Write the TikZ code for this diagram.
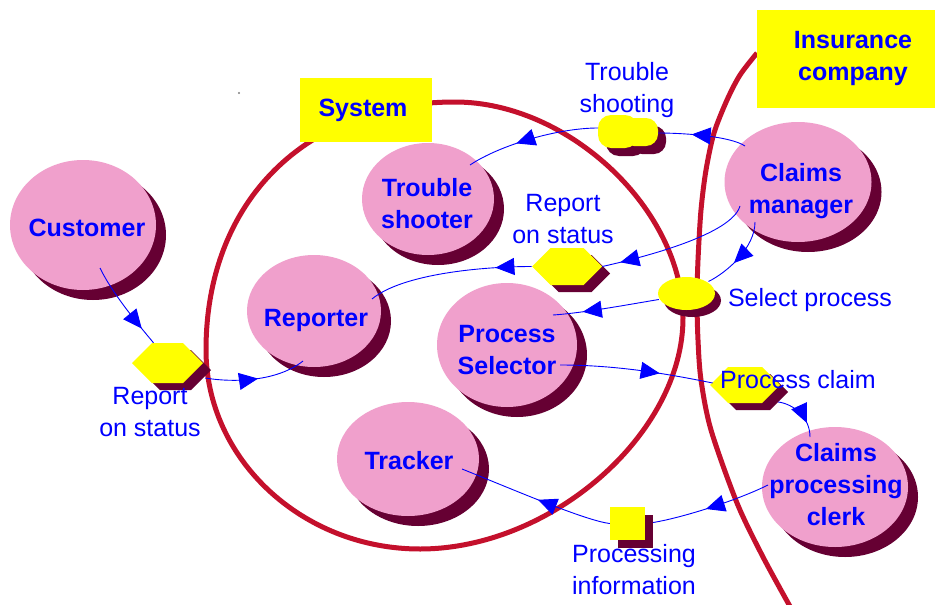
\documentclass[tikz,border=0pt]{standalone}
\usepackage{fontspec}
\setmainfont{Liberation Sans}
\usetikzlibrary{shapes.geometric,shapes.symbols,shadows,decorations.markings,arrows.meta,calc}

\definecolor{bubble}{RGB}{240,160,204}
\definecolor{bubbleshade}{RGB}{102,0,51}
\definecolor{tag}{RGB}{255,255,0}
\definecolor{flow}{RGB}{0,0,255}
\definecolor{bound}{RGB}{196,16,44}

\tikzset{
  actor/.style={ellipse, fill=bubble, inner sep=0pt,
    drop shadow={shadow xshift=10pt, shadow yshift=-10pt, fill=bubbleshade, opacity=1}},
  actortext/.style={text=flow, font=\fontsize{25}{32}\selectfont\bfseries, align=center, inner sep=0pt},
  msgtext/.style={text=flow, font=\fontsize{25}{32}\selectfont, align=center, inner sep=0pt},
  hexa/.style={signal, signal to=west and east, signal pointer angle=90, fill=tag, inner sep=0pt,
    drop shadow={shadow xshift=8pt, shadow yshift=-7pt, fill=bubbleshade, opacity=1}},
  oval/.style={ellipse, fill=tag, inner sep=0pt,
    drop shadow={shadow xshift=6pt, shadow yshift=-7pt, fill=bubbleshade, opacity=1}},
  sqbox/.style={rectangle, fill=tag, inner sep=0pt,
    drop shadow={shadow xshift=8pt, shadow yshift=-8pt, fill=bubbleshade, opacity=1}},
  titlebox/.style={rectangle, fill=tag, inner sep=0pt},
  boundary/.style={draw=bound, line width=5pt},
  flowline/.style={draw=flow, line width=0.9pt},
  tipat/.style={postaction={decorate}, decoration={markings,
    mark=at position #1 with {\arrow{Triangle[length=19pt,width=17pt]}}}},
}

\begin{document}
\begin{tikzpicture}[x=1pt, y=-1pt]
\useasboundingbox (0,0) rectangle (935,605);
\fill[white] (0,0) rectangle (935,605);

% system boundary (four quarter arcs) and company boundary
\draw[boundary] (455,102) .. controls (569,102) and (683,210) .. (683,318)
  .. controls (683,433.5) and (551.5,549) .. (420,549)
  .. controls (302,549) and (206,459) .. (206,350)
  .. controls (206,201) and (306,102) .. cycle;
\draw[boundary] plot[smooth] coordinates {
  (757,53) (740,75) (727,100) (714,133) (706,170) (701,210) (698,260)
  (697,300) (698,340) (701,380) (711,430) (737,503) (763,557) (792,610)};

% title boxes
\node[titlebox, minimum width=132pt, minimum height=64pt] (sysbox) at (366,110) {};
\node[actortext] (systxt) at (363,110) {System};
\node[titlebox, minimum width=180pt, minimum height=98pt] (insbox) at (847,59) {};
\node[actortext] (instxt) at (853,58) {Insurance\\company};
\fill[gray] (239,93) circle (1.2pt);

% actors
\node[actor, minimum width=146pt, minimum height=130pt] (cust) at (83,225) {};
\node[actor, minimum width=132pt, minimum height=112pt] (ts) at (428,199) {};
\node[actor, minimum width=134pt, minimum height=112pt] (rep) at (314,311) {};
\node[actor, minimum width=140pt, minimum height=124pt] (ps) at (507,345) {};
\node[actor, minimum width=142pt, minimum height=114pt] (tr) at (408,459) {};
\node[actor, minimum width=147pt, minimum height=120pt] (mgr) at (798,182) {};
\node[actor, minimum width=146pt, minimum height=120pt] (clerk) at (835,487) {};

\node[actortext] (custtxt) at (87,228) {Customer};
\node[actortext] (tstxt) at (427,204) {Trouble\\shooter};
\node[actortext] (reptxt) at (316,320) {Reporter};
\node[actortext] (pstxt) at (507,350) {Process\\Selector};
\node[actortext] (trtxt) at (409,461) {Tracker};
\node[actortext] (mgrtxt) at (801,191) {Claims\\manager};
\node[actortext] (clerktxt) at (836,485) {Claims\\processing\\clerk};

% message items
\node[hexa, minimum width=71pt, minimum height=40pt] (h1) at (167.5,363) {};
\node[hexa, minimum width=70pt, minimum height=37pt] (h2) at (567,266.5) {};
\node[hexa, minimum width=70pt, minimum height=36pt] (pc) at (745,385) {};
\node[oval, minimum width=57pt, minimum height=33pt] (sp) at (686.5,293.5) {};
\node[sqbox, minimum width=35pt, minimum height=33pt] (sq) at (627.5,523.5) {};

% trouble shooting item: two joined lobes
\coordinate (tsb) at (628,131);
\fill[bubbleshade, rounded corners=13pt] (606,123) rectangle (646,156);
\fill[bubbleshade, rounded corners=12pt] (630,126) rectangle (666,154);
\fill[tag, rounded corners=13pt] (598,115) rectangle (638,148);
\fill[tag, rounded corners=12pt] (622,118) rectangle (658,146);

% flows
\draw[flowline, tipat=0.8] ($(cust)+(17,43)$) .. controls +(12,25) and +(-15,-18) .. ($(h1.north)+(-14,0)$);
\draw[flowline, tipat=0.52] ($(h1.east)+(2,15)$) .. controls +(30,5) and +(-25,20) .. ($(rep)+(-11,50)$);
\draw[flowline, tipat=0.62] ($(mgr)+(-53,-36)$) .. controls +(-15,-10) and +(25,0) .. ($(tsb)+(30,2)$);
\draw[flowline, tipat=0.62] ($(tsb)+(-30,-3)$) .. controls +(-40,0) and +(30,-20) .. ($(ts)+(42,-34)$);
\draw[flowline, tipat=0.88] ($(mgr)+(-58,24)$) .. controls +(-8,28) and +(45,-10) .. (h2.east);
\draw[flowline, tipat=0.22] (h2.west) .. controls +(-50,0) and +(30,-25) .. ($(rep)+(58,-12)$);
\draw[flowline, tipat=0.6] ($(mgr)+(-43,40)$) .. controls +(0,25) and +(20,-10) .. ($(sp)+(22,-12)$);
\draw[flowline, tipat=0.72] ($(sp.west)+(1,6)$) .. controls +(-30,5) and +(30,-2) .. ($(ps)+(46,-30)$);
\draw[flowline, tipat=0.65] ($(ps)+(53,20)$) .. controls +(60,0) and +(-40,-8) .. ($(pc.west)+(3,-2)$);
\draw[flowline, tipat=0.72] ($(pc.east)+(-2,17)$) .. controls +(15,2) and +(0,-20) .. ($(clerk)+(-25,-50)$);
\draw[flowline, tipat=0.55] ($(clerk)+(-67,-2)$) .. controls +(-30,15) and +(30,-5) .. ($(sq.east)+(8,-1)$);
\draw[flowline, tipat=0.48] (sq.west) .. controls +(-25,-3) and +(50,20) .. ($(tr)+(54,10)$);

% message labels
\node[msgtext] (m1) at (150,412) {Report\\on status};
\node[msgtext] (m2) at (563,219) {Report\\on status};
\node[msgtext] (m3) at (627,90) {Trouble\\shooting};
\node[msgtext] (m4) at (810,300) {Select process};
\node[msgtext] (m5) at (798,380) {Process claim};
\node[msgtext] (m6) at (634,570) {Processing\\information};
\end{tikzpicture}
\end{document}
